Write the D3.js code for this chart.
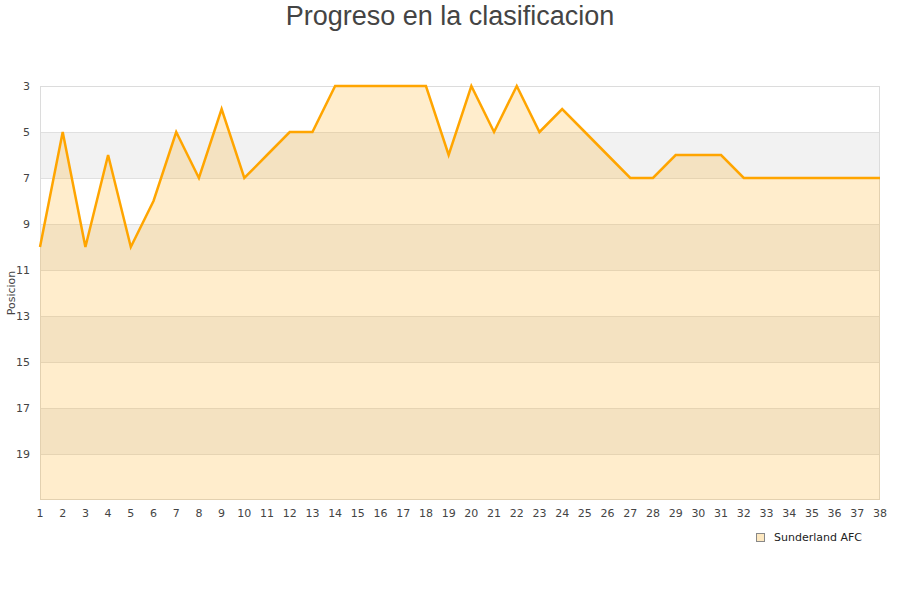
<!DOCTYPE html>
<html><head><meta charset="utf-8">
<script src="https://cdn.jsdelivr.net/npm/d3@7"></script>
<style>body{margin:0;background:#fff}svg{display:block}</style>
</head><body><svg id="c" width="900" height="600"></svg>
<script>
const jornadas = d3.range(1, 39);
const posiciones = [10,5,10,6,10,8,5,7,4,7,6,5,5,3,3,3,3,3,6,3,5,3,5,4,5,6,7,7,6,6,6,7,7,7,7,7,7,7];
const yTicks = [3,5,7,9,11,13,15,17,19];
const bands = [[5,7],[9,11],[13,15],[17,19]];
const title = "Progreso en la clasificacion";
const yLabel = "Posicion";
const seriesName = "Sunderland AFC";

const svg = d3.select("#c");
const m = {l:40, r:880, t:86, b:500};
const x = d3.scaleLinear().domain([1,38]).range([m.l, m.r]);
const y = d3.scaleLinear().domain([3,21]).range([m.t, m.b]);

svg.append("text").attr("x",450).attr("y",25).attr("text-anchor","middle")
  .attr("font-family","Liberation Sans, Arial, sans-serif").attr("font-size",27).attr("fill","#444").text(title);

// bands
svg.selectAll(".band").data(bands).enter().append("rect")
  .attr("x",m.l).attr("width",m.r-m.l)
  .attr("y",d=>y(d[0])).attr("height",d=>y(d[1])-y(d[0])).attr("fill","#f2f2f2");

// grid
svg.selectAll(".grid").data(yTicks).enter().append("line")
  .attr("x1",m.l).attr("x2",m.r).attr("y1",d=>y(d)).attr("y2",d=>y(d))
  .attr("stroke","#e0e0e0").attr("stroke-width",1).attr("shape-rendering","crispEdges");

// plot border
svg.append("rect").attr("x",m.l+0.5).attr("y",m.t+0.5).attr("width",m.r-m.l-1).attr("height",m.b-m.t-1)
  .attr("fill","none").attr("stroke","#dcdcdc");

const data = jornadas.map((j,i)=>({j, p:posiciones[i]}));
svg.append("path").datum(data)
  .attr("d", d3.area().x(d=>x(d.j)).y0(y(21)).y1(d=>y(d.p)))
  .attr("fill","rgb(255,165,0)").attr("fill-opacity",0.2);
svg.append("path").datum(data)
  .attr("d", d3.line().x(d=>x(d.j)).y(d=>y(d.p)))
  .attr("fill","none").attr("stroke","#ffa500").attr("stroke-width",2.5).attr("stroke-linejoin","miter");

// y ticks
svg.selectAll(".yt").data(yTicks).enter().append("text")
  .attr("x",30).attr("y",d=>y(d)+4).attr("text-anchor","end")
  .attr("font-family","DejaVu Sans, sans-serif").attr("font-size",11).attr("fill","#444").text(d=>d);
// x ticks
svg.selectAll(".xt").data(jornadas).enter().append("text")
  .attr("x",d=>x(d)).attr("y",517).attr("text-anchor","middle")
  .attr("font-family","DejaVu Sans, sans-serif").attr("font-size",11).attr("fill","#444").text(d=>d);

svg.append("text").attr("transform",`translate(15,${(m.t+m.b)/2}) rotate(-90)`).attr("text-anchor","middle")
  .attr("font-family","DejaVu Sans, sans-serif").attr("font-size",11).attr("fill","#444").text(yLabel);

// legend
svg.append("rect").attr("x",756.5).attr("y",533.5).attr("width",8).attr("height",8)
  .attr("fill","#fde8c0").attr("stroke","#888");
svg.append("text").attr("x",774).attr("y",541).attr("font-family","DejaVu Sans, sans-serif")
  .attr("font-size",11).attr("fill","#222").text(seriesName);
</script></body></html>
